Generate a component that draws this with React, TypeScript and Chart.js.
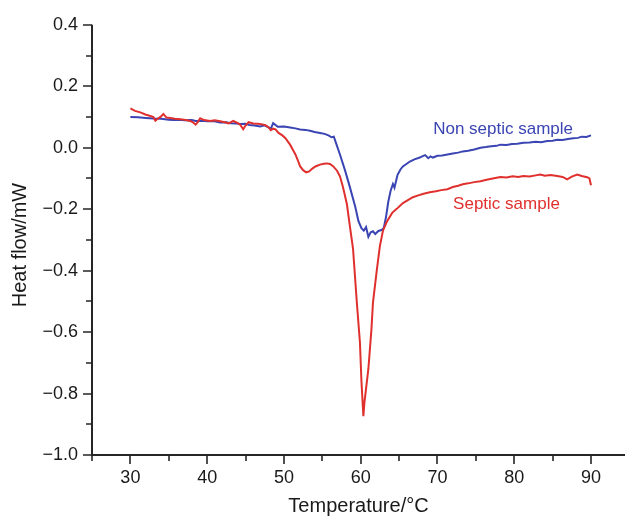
import React, { useEffect, useRef } from "react";
import { Chart, registerables } from "chart.js";

Chart.register(...registerables);

// ---- Data ----
const nonSepticTemp = [
  30.0, 31.0, 32.0, 33.0, 34.0, 35.0, 35.6, 36.5, 37.0, 38.0, 38.5, 39.5, 40.0, 40.8, 41.7, 42.5, 43.0, 43.8, 44.3, 45.0,
  45.5, 46.2, 46.9, 47.5, 48.0, 48.3, 48.6, 49.2, 50.0, 50.8, 51.5, 52.1, 52.8, 53.4, 54.0, 54.7, 55.3, 55.8, 56.2, 56.5,
  56.8, 57.3, 58.0, 58.6, 59.3, 59.7, 60.1, 60.4, 60.7, 61.0, 61.3, 61.6, 61.9, 62.3, 62.7, 63.0, 63.3, 63.6, 63.9, 64.2,
  64.4, 64.8, 65.2, 65.5, 66.0, 66.4, 67.0, 67.7, 68.0, 68.4, 68.8, 69.1, 69.4, 70.0, 70.6, 71.3, 72.0, 72.7, 73.3, 74.0,
  74.8, 75.6, 76.3, 77.0, 77.7, 78.2, 79.0, 79.7, 80.4, 81.2, 82.0, 82.8, 83.5, 84.3, 85.0, 85.6, 86.3, 87.0, 87.7, 88.3,
  88.8, 89.4, 90.0,
];
const nonSepticHeat = [
  0.100, 0.099, 0.097, 0.095, 0.094, 0.091, 0.090, 0.091, 0.089, 0.090, 0.087, 0.088, 0.086, 0.087, 0.082, 0.083, 0.080, 0.079, 0.077, 0.078,
  0.074, 0.072, 0.069, 0.073, 0.066, 0.062, 0.080, 0.068, 0.069, 0.066, 0.063, 0.059, 0.058, 0.055, 0.051, 0.048, 0.045, 0.040, 0.034, 0.036,
  0.014, -0.022, -0.077, -0.129, -0.193, -0.238, -0.262, -0.270, -0.258, -0.290, -0.275, -0.272, -0.281, -0.271, -0.268, -0.262, -0.225, -0.175, -0.140, -0.118,
  -0.130, -0.088, -0.070, -0.061, -0.052, -0.045, -0.038, -0.032, -0.028, -0.024, -0.034, -0.028, -0.032, -0.026, -0.025, -0.022, -0.019, -0.016, -0.012, -0.010,
  -0.006, 0.000, 0.002, 0.005, 0.006, 0.010, 0.009, 0.012, 0.013, 0.016, 0.017, 0.019, 0.018, 0.022, 0.023, 0.026, 0.025, 0.028, 0.031, 0.032,
  0.036, 0.035, 0.040,
];

const septicTemp = [
  30.0, 30.6, 31.3, 31.95, 32.6, 33.0, 33.25, 33.6, 34.0, 34.3, 34.7, 35.2, 35.8, 36.5, 37.2, 37.8, 38.2, 38.5, 38.8, 39.1,
  39.6, 40.4, 41.0, 41.7, 42.3, 42.8, 43.4, 44.0, 44.3, 44.7, 45.0, 45.4, 46.0, 46.6, 47.2, 47.6, 48.0, 48.3, 48.6, 48.9,
  49.3, 49.8, 50.2, 50.8, 51.2, 51.5, 51.8, 52.1, 52.5, 52.9, 53.3, 53.7, 54.1, 54.7, 55.2, 55.6, 56.0, 56.4, 56.9, 57.3,
  57.7, 58.2, 58.6, 59.0, 59.5, 59.9, 60.1, 60.35, 60.5, 61.0, 61.4, 61.6, 62.1, 62.5, 62.9, 63.4, 64.1, 64.7, 65.5, 66.2,
  66.8, 67.5, 68.2, 69.0, 69.8, 70.5, 71.3, 72.0, 72.7, 73.3, 74.0, 74.8, 75.6, 76.4, 77.2, 78.2, 79.0, 79.8, 80.5, 81.2,
  82.0, 82.8, 83.4, 84.0, 84.7, 85.6, 86.3, 86.9, 87.5, 88.2, 88.8, 89.5, 89.8, 90.0,
];
const septicHeat = [
  0.128, 0.120, 0.115, 0.108, 0.103, 0.100, 0.088, 0.095, 0.102, 0.110, 0.098, 0.097, 0.094, 0.093, 0.090, 0.087, 0.082, 0.075, 0.084, 0.096,
  0.090, 0.087, 0.089, 0.086, 0.083, 0.079, 0.087, 0.080, 0.075, 0.060, 0.072, 0.083, 0.079, 0.078, 0.076, 0.073, 0.066, 0.057, 0.062, 0.060,
  0.048, 0.040, 0.031, 0.010, -0.008, -0.022, -0.040, -0.060, -0.073, -0.080, -0.077, -0.068, -0.061, -0.055, -0.052, -0.051, -0.053, -0.060, -0.074, -0.093,
  -0.129, -0.183, -0.257, -0.328, -0.504, -0.633, -0.761, -0.874, -0.826, -0.720, -0.591, -0.504, -0.398, -0.320, -0.270, -0.241, -0.212, -0.199, -0.180, -0.170,
  -0.161, -0.155, -0.150, -0.145, -0.142, -0.138, -0.135, -0.128, -0.124, -0.119, -0.116, -0.112, -0.109, -0.104, -0.100, -0.095, -0.097, -0.093, -0.095, -0.092,
  -0.094, -0.090, -0.087, -0.091, -0.089, -0.092, -0.095, -0.103, -0.094, -0.087, -0.092, -0.096, -0.100, -0.122,
];

const xLabelTicks = [30, 40, 50, 60, 70, 80, 90];
const xMinorTicks = [25, 35, 45, 55, 65, 75, 85];
const yLabelTicks = [-1.0, -0.8, -0.6, -0.4, -0.2, 0.0, 0.2, 0.4];
const yMinorTicks = [-0.9, -0.7, -0.5, -0.3, -0.1, 0.1, 0.3];

const seriesNames = ["Septic sample", "Non septic sample"];
const xTitle = "Temperature/°C";
const yTitle = "Heat flow/mW";

// annotation anchors (data coordinates)
const labelNonSeptic = { x: 69.44, y: 0.045 };
const labelSeptic = { x: 72.04, y: -0.199 };

const RED = "#e0302e";
const BLUE = "#3a44b2";
const AXIS = "#262626";
const FONT = "'Liberation Sans', Arial, Helvetica, sans-serif";

const fmt = (v: number) => (v < -1e-9 ? "\u2212" : "") + Math.abs(v).toFixed(1);

const axesPlugin = {
  id: "customAxes",
  afterDraw(chart: any) {
    const { ctx, chartArea, scales } = chart;
    const { left, right, top, bottom } = chartArea;
    const xs = scales.x;
    const ys = scales.y;
    ctx.save();
    ctx.strokeStyle = AXIS;
    ctx.lineWidth = 2;
    ctx.beginPath();
    ctx.moveTo(left, top);
    ctx.lineTo(left, bottom + 1);
    ctx.moveTo(left - 1, bottom);
    ctx.lineTo(right, bottom);
    ctx.stroke();

    ctx.lineWidth = 1.6;
    ctx.beginPath();
    yLabelTicks.forEach((v) => {
      const p = Math.round(ys.getPixelForValue(v));
      ctx.moveTo(left - 9, p);
      ctx.lineTo(left, p);
    });
    yMinorTicks.forEach((v) => {
      const p = Math.round(ys.getPixelForValue(v));
      ctx.moveTo(left - 6, p);
      ctx.lineTo(left, p);
    });
    xLabelTicks.forEach((v) => {
      const p = Math.round(xs.getPixelForValue(v));
      ctx.moveTo(p, bottom);
      ctx.lineTo(p, bottom + 9);
    });
    xMinorTicks.forEach((v) => {
      const p = Math.round(xs.getPixelForValue(v));
      ctx.moveTo(p, bottom);
      ctx.lineTo(p, bottom + 6);
    });
    ctx.stroke();

    // axis titles
    ctx.fillStyle = "#1a1a1a";
    ctx.font = `20px ${FONT}`;
    ctx.textAlign = "center";
    ctx.textBaseline = "middle";
    ctx.fillText(xTitle, (left + right) / 2, 506);
    ctx.save();
    ctx.translate(20, 245);
    ctx.rotate(-Math.PI / 2);
    ctx.fillText(yTitle, 0, 0);
    ctx.restore();

    // series labels
    ctx.font = `17px ${FONT}`;
    ctx.textAlign = "left";
    ctx.textBaseline = "alphabetic";
    ctx.fillStyle = BLUE;
    ctx.fillText(seriesNames[1], xs.getPixelForValue(labelNonSeptic.x), ys.getPixelForValue(labelNonSeptic.y));
    ctx.fillStyle = RED;
    ctx.fillText(seriesNames[0], xs.getPixelForValue(labelSeptic.x), ys.getPixelForValue(labelSeptic.y));
    ctx.restore();
  },
};

export default function App() {
  const canvasRef = useRef<HTMLCanvasElement | null>(null);

  useEffect(() => {
    document.body.style.margin = "0";
    const canvas = canvasRef.current;
    if (!canvas) return;
    const chart = new Chart(canvas, {
      type: "line",
      data: {
        datasets: [
          {
            label: seriesNames[0],
            data: septicTemp.map((t, i) => ({ x: t, y: septicHeat[i] })),
            borderColor: RED,
            borderWidth: 2,
            pointRadius: 0,
            tension: 0,
            fill: false,
          },
          {
            label: seriesNames[1],
            data: nonSepticTemp.map((t, i) => ({ x: t, y: nonSepticHeat[i] })),
            borderColor: BLUE,
            borderWidth: 2,
            pointRadius: 0,
            tension: 0,
            fill: false,
          },
        ],
      },
      options: {
        responsive: false,
        animation: false,
        layout: { padding: { top: 18, right: 0, left: 0, bottom: 0 } },
        plugins: {
          legend: { display: false },
          tooltip: { enabled: false },
          title: { display: false },
        },
        scales: {
          x: {
            type: "linear",
            min: 25,
            max: 94.43,
            grid: { display: false, drawTicks: false },
            border: { display: false },
            afterBuildTicks: (s: any) => {
              s.ticks = xLabelTicks.map((v) => ({ value: v }));
            },
            afterFit: (s: any) => {
              s.height = 62;
            },
            ticks: {
              padding: 12,
              maxRotation: 0,
              autoSkip: false,
              color: "#1a1a1a",
              font: { family: FONT, size: 18 },
              callback: (v: any) => String(v),
            },
          },
          y: {
            type: "linear",
            min: -1.0,
            max: 0.4,
            grid: { display: false, drawTicks: false },
            border: { display: false },
            afterBuildTicks: (s: any) => {
              s.ticks = yLabelTicks.map((v) => ({ value: v }));
            },
            afterFit: (s: any) => {
              s.width = 92;
            },
            ticks: {
              padding: 14,
              autoSkip: false,
              color: "#1a1a1a",
              font: { family: FONT, size: 18 },
              callback: (v: any) => fmt(Number(v)),
            },
          },
        },
      },
      plugins: [axesPlugin],
    });
    return () => chart.destroy();
  }, []);

  return (
    <div style={{ width: 625, height: 517 }}>
      <canvas ref={canvasRef} width={625} height={517} style={{ display: "block" }} />
    </div>
  );
}
